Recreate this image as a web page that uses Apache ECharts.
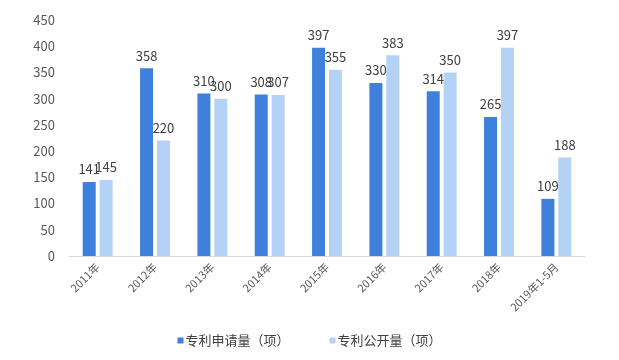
<!DOCTYPE html>
<html><head><meta charset="utf-8">
<script src="https://cdn.jsdelivr.net/npm/echarts@6/dist/echarts.min.js"></script>
<style>html,body{margin:0;padding:0;background:#fff}#c{width:619px;height:360px}</style>
</head><body><div id="c"></div>
<script>
var categories = ['2011年','2012年','2013年','2014年','2015年','2016年','2017年','2018年','2019年1-5月'];
var applied = [141,358,310,308,397,330,314,265,109];
var published = [145,220,300,307,355,383,350,397,188];
var yTicks = [0,50,100,150,200,250,300,350,400,450];
var seriesNames = ['专利申请量（项）','专利公开量（项）'];

var font = '"Noto Sans CJK SC","Microsoft YaHei",sans-serif';
var chart = echarts.init(document.getElementById('c'));
chart.setOption({
  animation:false,
  textStyle:{fontFamily:font},
  grid:{left:69,right:34,top:20,bottom:104},
  legend:{bottom:8,left:'center',itemWidth:6,itemHeight:6,itemGap:40,icon:'rect',
    textStyle:{fontSize:13,color:'#404040',fontFamily:font,padding:[0,0,0,-3]},data:seriesNames},
  xAxis:{type:'category',data:categories,
    axisLine:{lineStyle:{color:'#D9D9D9'}},axisTick:{show:false},
    axisLabel:{rotate:45,fontSize:11,color:'#595959',interval:0,margin:9}},
  yAxis:{type:'value',min:yTicks[0],max:yTicks[yTicks.length-1],interval:50,
    axisLine:{show:false},axisTick:{show:false},splitLine:{show:false},
    axisLabel:{fontSize:13,color:'#595959',margin:14}},
  series:[
    {name:seriesNames[0],type:'bar',data:applied,barWidth:13,barGap:'30%',
     itemStyle:{color:'#3E80DC'},
     label:{show:true,position:'top',fontSize:13,color:'#404040',distance:6}},
    {name:seriesNames[1],type:'bar',data:published,barWidth:13,
     itemStyle:{color:'#B4D1F6'},
     label:{show:true,position:'top',fontSize:13,color:'#404040',distance:6}}
  ]
});
</script></body></html>
